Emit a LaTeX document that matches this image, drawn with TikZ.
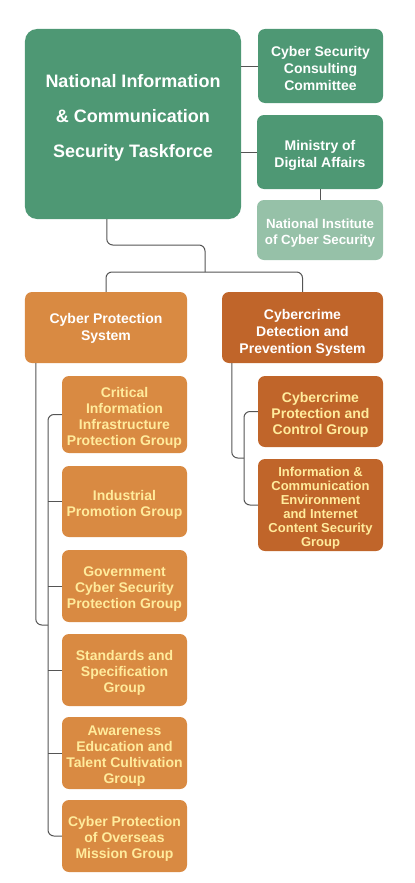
\documentclass[tikz,border=0pt]{standalone}
\usepackage{fontspec}
\setmainfont{Liberation Sans}
\usetikzlibrary{calc}
\definecolor{grn}{HTML}{4E9874}
\definecolor{lgrn}{HTML}{96C1A8}
\definecolor{org}{HTML}{D98A42}
\definecolor{dorg}{HTML}{C0652A}
\definecolor{pale}{HTML}{FFEB9C}
\definecolor{ln}{HTML}{555555}
\newcommand\vshz[1][16bp]{\rule{0pt}{#1}}
\tikzset{
  x=1bp, y=-1bp,
  box/.style={rounded corners=7bp, inner sep=0pt, align=center, font=\bfseries\fontsize{14bp}{17bp}\selectfont, text=white, minimum width=125bp},
  gbox/.style={box, fill=grn},
  lbox/.style={box, fill=lgrn, font=\bfseries\fontsize{13.3bp}{16bp}\selectfont},
  obox/.style={box, fill=org, text=pale, font=\bfseries\fontsize{14bp}{16bp}\selectfont},
  dbox/.style={box, fill=dorg, text=pale, font=\bfseries\fontsize{14bp}{16bp}\selectfont},
  conn/.style={draw=ln, line width=1bp, rounded corners=6bp},
}
\begin{document}
\begin{tikzpicture}
\useasboundingbox (0,0) rectangle (414,883);
% top level
\node[box, fill=grn, rounded corners=12bp, minimum width=216bp, minimum height=190bp] (top) at (133,124) {};
\node[text=white, font=\bfseries\fontsize{18bp}{35bp}\selectfont, align=center, inner sep=0pt] (toptext) at (133,118) {National Information\\\& Communication\\Security Taskforce};
\node[gbox, minimum height=74bp] (csc) at (320.5,66) {\vshz Cyber Security\\Consulting\\Committee};
\node[gbox, minimum width=126bp, minimum height=74bp] (mda) at (320,152) {\vshz Ministry of\\Digital Affairs};
\node[lbox, minimum width=126bp, minimum height=60bp] (nics) at (320,230) {\vshz National Institute\\of Cyber Security};
% second level
\node[box, fill=org, minimum width=162bp, minimum height=71bp] (cps) at (106,327.5) {\vshz[12bp]Cyber Protection\\System};
\node[box, fill=dorg, minimum width=161bp, minimum height=71bp] (cdps) at (302.5,327.5) {\vshz[20bp]Cybercrime\\Detection and\\Prevention System};
% left children
\node[obox, minimum height=77bp] (l1) at (124.5,414.5) {\vshz Critical\\Information\\Infrastructure\\Protection Group};
\node[obox, minimum height=71bp] (l2) at (124.5,501.5) {\vshz Industrial\\Promotion Group};
\node[obox, minimum height=72bp] (l3) at (124.5,586) {\vshz Government\\Cyber Security\\Protection Group};
\node[obox, minimum height=72bp] (l4) at (124.5,670) {\vshz Standards and\\Specification\\Group};
\node[obox, minimum height=72bp] (l5) at (124.5,753) {\vshz Awareness\\Education and\\Talent Cultivation\\Group};
\node[obox, minimum height=72bp] (l6) at (124.5,836) {\vshz Cyber Protection\\of Overseas\\Mission Group};
% right children
\node[dbox, minimum height=71bp] (r1) at (320.5,411.5) {\vshz[17bp]Cybercrime\\Protection and\\Control Group};
\node[dbox, minimum height=92bp, font=\bfseries\fontsize{13bp}{14bp}\selectfont] (r2) at (320.5,505) {\vshz[15.5bp]Information \&\\Communication\\Environment\\and Internet\\Content Security\\Group};
% connector coordinates
\coordinate (tj) at (205,245);
\coordinate (bus) at (205,272);
\coordinate (sL) at (48,625);
\coordinate (sR) at (244,458);
% connectors
\draw[conn] (top.east |- csc.west) -- (csc.west);
\draw[conn] (top.east |- mda.west) -- (mda.west);
\draw[conn] (mda.south) -- (nics.north);
\draw[conn] ($(top.south west)+(82,0)$) |- (tj) -- (bus);
\draw[conn] (cps.north) |- (bus) -| (cdps.north);
\draw[conn] (l1.west) -| (sL) |- (l6.west);
\foreach \n in {l2,l3,l4,l5} \draw[conn] (\n.west) -- (\n.west -| sL);
\draw[conn] ($(cps.south west)+(11,0)$) |- (sL);
\draw[conn] (r1.west) -| (sR) |- (r2.west);
\draw[conn] ($(cdps.south west)+(10,0)$) |- (sR);
\end{tikzpicture}
\end{document}
